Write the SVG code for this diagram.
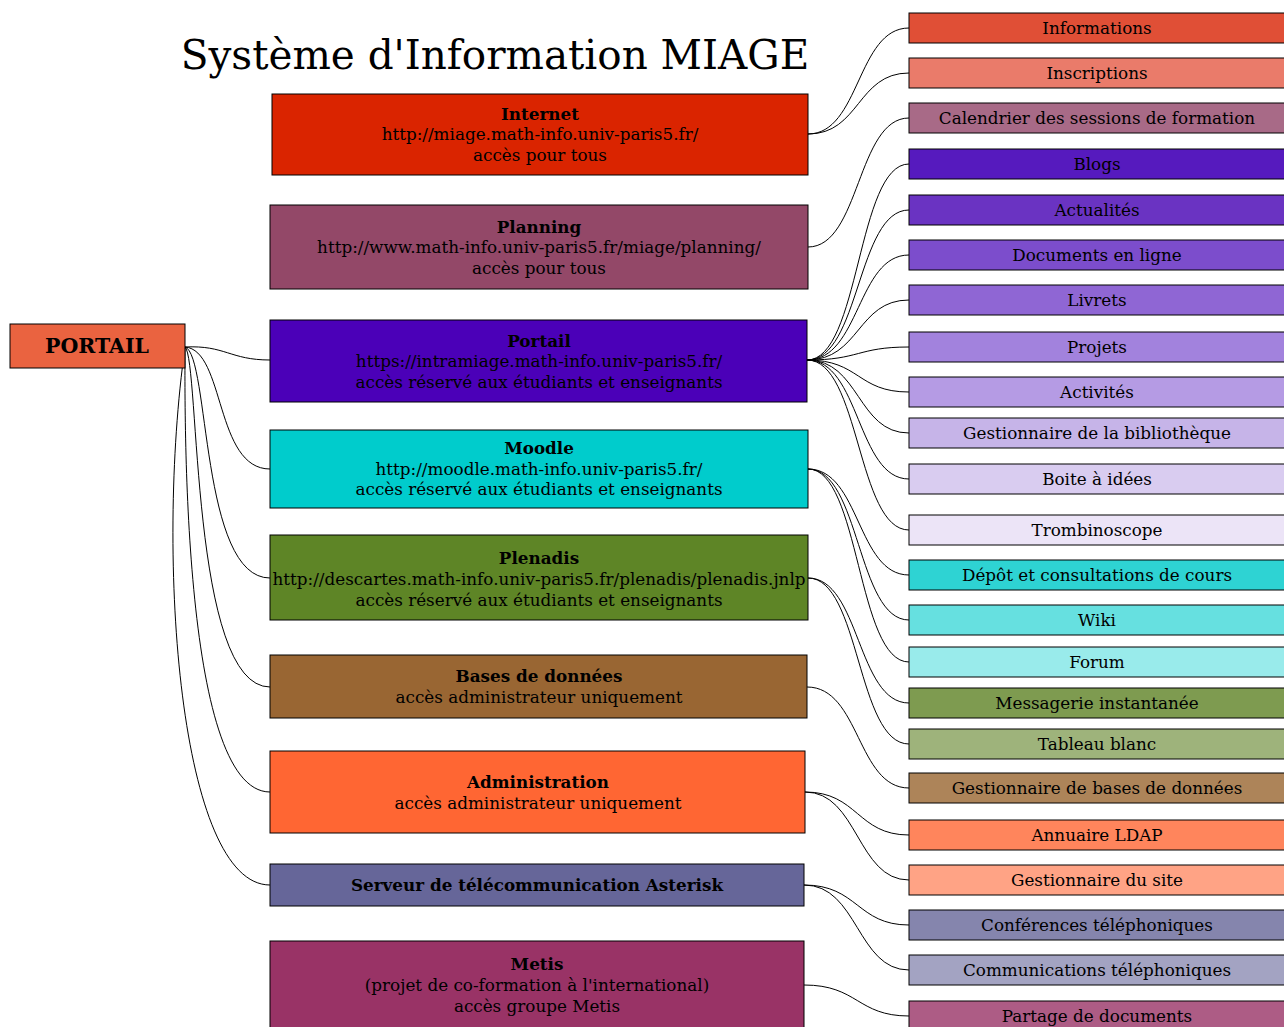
<svg xmlns="http://www.w3.org/2000/svg" width="1284" height="1027" viewBox="0 0 1284 1027">
<style>
text{font-family:"DejaVu Serif","Liberation Serif",serif;fill:#000;text-anchor:middle}
.t{font-size:16.8px}
.b{font-size:16.8px;font-weight:bold}
.title{font-size:40.5px}
.n rect{stroke:#000;stroke-width:1}
.c path{fill:none;stroke:#000;stroke-width:1}
</style>
<text class="title" x="495" y="69">Système d'Information MIAGE</text>
<g class="c" id="connectors">
<path d="M185,347 C225,345 230,360 270,360"/>
<path d="M185,347 C225,350 215,469 270,469"/>
<path d="M185,347 C210,355 200,578 270,578"/>
<path d="M185,347 C200,360 190,687 270,687"/>
<path d="M185,347 C185,400 180,792 270,792"/>
<path d="M185,347 C155,560 180,885 270,885"/>
<path d="M808,134 C860,134 857,28 909,28"/>
<path d="M808,134 C860,134 857,73 909,73"/>
<path d="M808,247 C860,247 857,118 909,118"/>
<path d="M807,360 C860,360 857,164 909,164"/>
<path d="M807,360 C860,360 857,210 909,210"/>
<path d="M807,360 C860,360 857,255 909,255"/>
<path d="M807,360 C860,360 857,300 909,300"/>
<path d="M807,360 C860,360 857,347 909,347"/>
<path d="M807,360 C860,360 857,392 909,392"/>
<path d="M807,360 C860,360 857,433 909,433"/>
<path d="M807,360 C860,360 857,479 909,479"/>
<path d="M807,360 C860,360 857,530 909,530"/>
<path d="M808,469 C860,469 857,575 909,575"/>
<path d="M808,469 C860,469 857,620 909,620"/>
<path d="M808,469 C860,469 857,662 909,662"/>
<path d="M808,578 C860,578 857,703 909,703"/>
<path d="M808,578 C860,578 857,744 909,744"/>
<path d="M807,687 C860,687 857,788 909,788"/>
<path d="M805,792 C858,792 857,835 909,835"/>
<path d="M805,792 C858,792 857,880 909,880"/>
<path d="M804,885 C858,885 857,925 909,925"/>
<path d="M804,885 C858,885 857,970 909,970"/>
<path d="M804,985 C858,985 857,1016 909,1016"/>
</g>
<g class="n" id="portail-root"><rect x="10" y="324" width="175" height="44" fill="#EA6340"/><text x="97" y="353" style="font-size:20.5px;font-weight:bold">PORTAIL</text></g>
<g class="n" id="internet"><rect x="272" y="94" width="536" height="81" fill="#DA2400"/><text class="b" x="540" y="120">Internet</text><text class="t" x="540" y="140">http://miage.math-info.univ-paris5.fr/</text><text class="t" x="540" y="161">accès pour tous</text></g>
<g class="n" id="planning"><rect x="270" y="205" width="538" height="84" fill="#934868"/><text class="b" x="539" y="233">Planning</text><text class="t" x="539" y="253">http://www.math-info.univ-paris5.fr/miage/planning/</text><text class="t" x="539" y="274">accès pour tous</text></g>
<g class="n" id="portail"><rect x="270" y="320" width="537" height="82" fill="#4B00B8"/><text class="b" x="539" y="347">Portail</text><text class="t" x="539" y="367">https://intramiage.math-info.univ-paris5.fr/</text><text class="t" x="539" y="388">accès réservé aux étudiants et enseignants</text></g>
<g class="n" id="moodle"><rect x="270" y="430" width="538" height="78" fill="#00CCCC"/><text class="b" x="539" y="454">Moodle</text><text class="t" x="539" y="475">http://moodle.math-info.univ-paris5.fr/</text><text class="t" x="539" y="495">accès réservé aux étudiants et enseignants</text></g>
<g class="n" id="plenadis"><rect x="270" y="535" width="538" height="85" fill="#5E8526"/><text class="b" x="539" y="564">Plenadis</text><text class="t" x="539" y="585">http://descartes.math-info.univ-paris5.fr/plenadis/plenadis.jnlp</text><text class="t" x="539" y="606">accès réservé aux étudiants et enseignants</text></g>
<g class="n" id="bases"><rect x="270" y="655" width="537" height="63" fill="#996633"/><text class="b" x="539" y="682">Bases de données</text><text class="t" x="539" y="703">accès administrateur uniquement</text></g>
<g class="n" id="administration"><rect x="270" y="751" width="535" height="82" fill="#FF6633"/><text class="b" x="538" y="788">Administration</text><text class="t" x="538" y="809">accès administrateur uniquement</text></g>
<g class="n" id="asterisk"><rect x="270" y="864" width="534" height="42" fill="#666699"/><text class="b" x="537" y="891">Serveur de télécommunication Asterisk</text></g>
<g class="n" id="metis"><rect x="270" y="941" width="534" height="95" fill="#993366"/><text class="b" x="537" y="970">Metis</text><text class="t" x="537" y="991">(projet de co-formation à l'international)</text><text class="t" x="537" y="1012">accès groupe Metis</text></g>
<g class="n" id="informations"><rect x="909" y="13" width="380" height="30" fill="#E04F36"/><text class="t" x="1097" y="33.5">Informations</text></g>
<g class="n" id="inscriptions"><rect x="909" y="58" width="380" height="30" fill="#EA7B6A"/><text class="t" x="1097" y="78.5">Inscriptions</text></g>
<g class="n" id="calendrier"><rect x="909" y="103" width="380" height="30" fill="#A86A87"/><text class="t" x="1097" y="123.5">Calendrier des sessions de formation</text></g>
<g class="n" id="blogs"><rect x="909" y="149" width="380" height="30" fill="#561ABE"/><text class="t" x="1097" y="169.5">Blogs</text></g>
<g class="n" id="actualites"><rect x="909" y="195" width="380" height="30" fill="#6A33C2"/><text class="t" x="1097" y="215.5">Actualités</text></g>
<g class="n" id="documents"><rect x="909" y="240" width="380" height="30" fill="#7C4DCC"/><text class="t" x="1097" y="260.5">Documents en ligne</text></g>
<g class="n" id="livrets"><rect x="909" y="285" width="380" height="30" fill="#8F66D4"/><text class="t" x="1097" y="305.5">Livrets</text></g>
<g class="n" id="projets"><rect x="909" y="332" width="380" height="30" fill="#A282DD"/><text class="t" x="1097" y="352.5">Projets</text></g>
<g class="n" id="activites"><rect x="909" y="377" width="380" height="30" fill="#B59BE4"/><text class="t" x="1097" y="397.5">Activités</text></g>
<g class="n" id="bibliotheque"><rect x="909" y="418" width="380" height="30" fill="#C6B4E8"/><text class="t" x="1097" y="438.5">Gestionnaire de la bibliothèque</text></g>
<g class="n" id="boite"><rect x="909" y="464" width="380" height="30" fill="#D9CCF0"/><text class="t" x="1097" y="484.5">Boite à idées</text></g>
<g class="n" id="trombinoscope"><rect x="909" y="515" width="380" height="30" fill="#ECE4F7"/><text class="t" x="1097" y="535.5">Trombinoscope</text></g>
<g class="n" id="depot"><rect x="909" y="560" width="380" height="30" fill="#2ED3D3"/><text class="t" x="1097" y="580.5">Dépôt et consultations de cours</text></g>
<g class="n" id="wiki"><rect x="909" y="605" width="380" height="30" fill="#66E0E0"/><text class="t" x="1097" y="625.5">Wiki</text></g>
<g class="n" id="forum"><rect x="909" y="647" width="380" height="30" fill="#99EBEB"/><text class="t" x="1097" y="667.5">Forum</text></g>
<g class="n" id="messagerie"><rect x="909" y="688" width="380" height="30" fill="#7E9B50"/><text class="t" x="1097" y="708.5">Messagerie instantanée</text></g>
<g class="n" id="tableau"><rect x="909" y="729" width="380" height="30" fill="#9EB37B"/><text class="t" x="1097" y="749.5">Tableau blanc</text></g>
<g class="n" id="gestbd"><rect x="909" y="773" width="380" height="30" fill="#AD8459"/><text class="t" x="1097" y="793.5">Gestionnaire de bases de données</text></g>
<g class="n" id="ldap"><rect x="909" y="820" width="380" height="30" fill="#FF855C"/><text class="t" x="1097" y="840.5">Annuaire LDAP</text></g>
<g class="n" id="gestsite"><rect x="909" y="865" width="380" height="30" fill="#FFA385"/><text class="t" x="1097" y="885.5">Gestionnaire du site</text></g>
<g class="n" id="conferences"><rect x="909" y="910" width="380" height="30" fill="#8585AD"/><text class="t" x="1097" y="930.5">Conférences téléphoniques</text></g>
<g class="n" id="communications"><rect x="909" y="955" width="380" height="30" fill="#A3A3C2"/><text class="t" x="1097" y="975.5">Communications téléphoniques</text></g>
<g class="n" id="partage"><rect x="909" y="1001" width="380" height="30" fill="#AD5C85"/><text class="t" x="1097" y="1021.5">Partage de documents</text></g>
</svg>
